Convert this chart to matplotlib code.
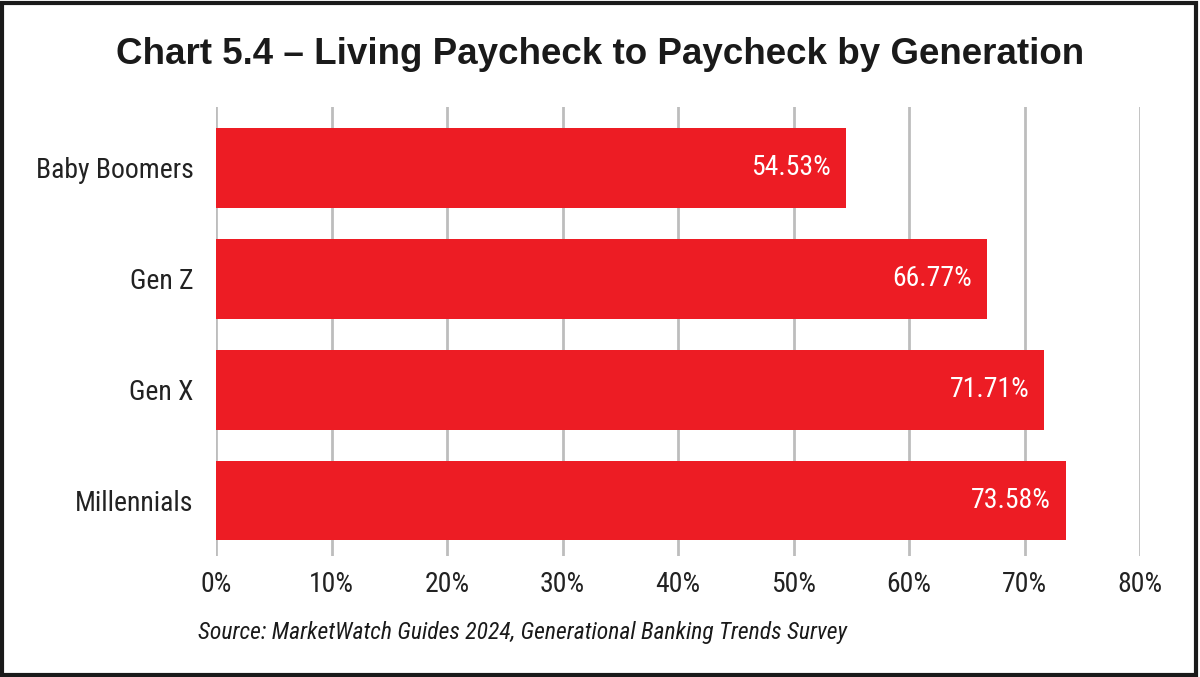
import matplotlib
matplotlib.use("Agg")
import matplotlib.pyplot as plt
from matplotlib.patches import Rectangle

generations = ["Baby Boomers", "Gen Z", "Gen X", "Millennials"]
shares = [54.53, 66.77, 71.71, 73.58]
ticks = [0, 10, 20, 30, 40, 50, 60, 70, 80]

NARROW = ["Roboto Condensed", "Liberation Sans", "DejaVu Sans"]
RED = "#ED1C24"
GRID = "#BDBDBD"
INK = "#222222"

fig = plt.figure(figsize=(12, 6.77), dpi=100)
ax = fig.add_axes([216/1200, 1 - 556/677, (1140-216)/1200, (556-107)/677])

ypos = list(range(len(generations)))
ax.barh(ypos, shares, height=0.72, color=RED, zorder=3)
for y, v in zip(ypos, shares):
    ax.text(v - 1.3, y, f"{v:.2f}%", ha="right", va="center", color="white",
            fontsize=20, family=NARROW, zorder=4)

ax.set_xlim(0, 80)
ax.set_ylim(3.5, -0.55)
ax.set_xticks(ticks)
ax.set_xticklabels([f"{t}%" for t in ticks], family=NARROW, fontsize=20, color=INK)
ax.set_yticks(ypos)
ax.set_yticklabels(generations, family=NARROW, fontsize=20, color=INK)
ax.tick_params(axis="x", length=0, pad=11)
ax.tick_params(axis="y", length=0, pad=16)
ax.xaxis.grid(True, color=GRID, linewidth=2, zorder=0)
for s in ax.spines.values():
    s.set_visible(False)

fig.text(0.5, 1 - 55/677, "Chart 5.4 \u2013 Living Paycheck to Paycheck by Generation",
         ha="center", va="center", fontsize=26.5, fontweight="bold",
         family=["Liberation Sans", "DejaVu Sans"], color="#1a1a1a")
fig.text(198/1200, 1 - 632/677, "Source: MarketWatch Guides 2024, Generational Banking Trends Survey",
         ha="left", va="center", fontsize=17, style="italic", family=NARROW, color="#1a1a1a")

# frame round the whole picture
fig.patches.append(Rectangle((0.002, 0.003), 0.995, 0.993, transform=fig.transFigure,
                             fill=False, edgecolor="#1a1a1a", linewidth=3))

fig.savefig("out.png", dpi=100)
